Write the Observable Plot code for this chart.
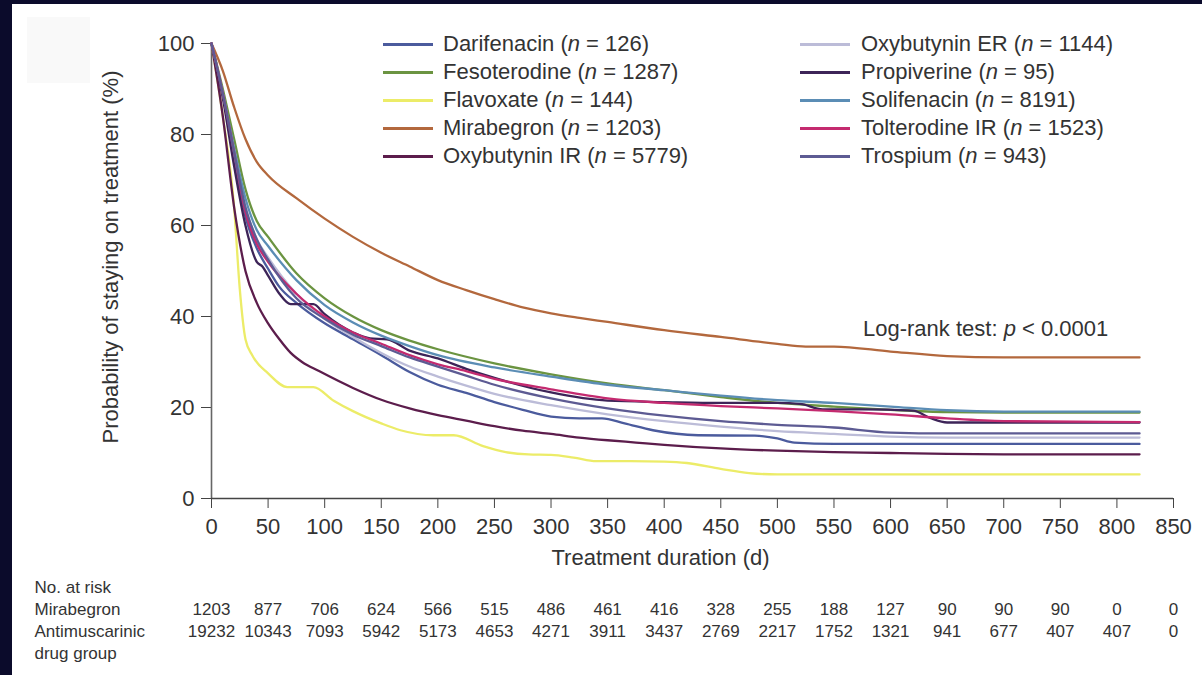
<!DOCTYPE html>
<html>
<head>
<meta charset="utf-8">
<script src="https://cdn.jsdelivr.net/npm/d3@7"></script>
<script src="https://cdn.jsdelivr.net/npm/@observablehq/plot@0.6"></script>
<style>
  html, body { margin: 0; padding: 0; background: #0b0b2b; }
  body { width: 1202px; height: 675px; overflow: hidden; position: relative; }
  #wrap { position: absolute; left: 12px; top: 4px; width: 1190px; height: 671px; background: #fff;
          font-family: "Liberation Sans", Arial, sans-serif; color: #333; }
  #wrap svg { position: absolute; left: 0; top: 0; }
  #shade { position: absolute; left: 15px; top: 13px; width: 63px; height: 66px; background: #f9f9f9; }
  .lg { position: absolute; font-size: 22px; line-height: 22px; white-space: nowrap; }
  .sw { position: absolute; width: 50px; height: 0; border-top: 3px solid; }
  #logrank { position: absolute; left: 851px; top: 314px; font-size: 22px; line-height: 22px; white-space: nowrap; }
  #ytitle { position: absolute; left: 99px; top: 253px; font-size: 22px; line-height: 22px; white-space: nowrap;
            transform: translate(-50%, -50%) rotate(-90deg); }
</style>
</head>
<body>
<div id="wrap"><div id="shade"></div></div>
<script>
// ---------- data ----------
const xTicks = [0,50,100,150,200,250,300,350,400,450,500,550,600,650,700,750,800,850];
const yTicks = [0,20,40,60,80,100];

const seriesNames = ["Darifenacin","Fesoterodine","Flavoxate","Mirabegron","Oxybutynin IR",
                     "Oxybutynin ER","Propiverine","Solifenacin","Tolterodine IR","Trospium"];
const seriesN = [126,1287,144,1203,5779,1144,95,8191,1523,943];
const seriesColors = ["#4b5b9d","#6b9441","#ecec68","#b3683d","#5c1d4c",
                      "#bcbcd8","#3d2458","#5b8db5","#c42a6f","#5d5b93"];

const darifenacinDays = [0,10,20,30,40,50,60,75,100,125,150,175,200,225,250,275,300,325,345,365,390,430,480,500,515,550,820];
const darifenacinPct  = [100,89,75,62,55,50.5,46.5,43,38.5,35,31.5,27.8,25,23.2,21.2,19.5,18,17.6,17.6,16.5,15,13.9,13.8,13.2,12.3,12,12];

const fesoterodineDays = [0,10,20,30,40,50,75,100,125,150,175,200,250,300,350,400,450,500,550,600,650,700,820];
const fesoterodinePct  = [100,90,79,68,61,57.5,49.5,44,40,37,34.7,32.8,29.7,27.3,25.3,23.8,22.3,21,20.2,19.5,19,18.9,18.9];

const flavoxateDays = [0,10,20,25,30,36,50,67,90,108,125,150,167,196,214,240,260,280,300,320,340,370,400,420,450,475,500,820];
const flavoxatePct  = [100,84,64,46,35,31.5,27.5,24.5,24.5,21.5,19.2,16.5,15,13.9,13.9,11.5,10.2,9.7,9.6,9,8.2,8.2,8.1,7.8,6.5,5.6,5.3,5.3];

const mirabegronDays = [0,10,20,30,40,50,75,100,125,150,175,200,225,250,275,300,325,350,400,450,500,525,550,600,650,700,820];
const mirabegronPct  = [100,94,86,79,74,71,66,61.5,57.5,54,51,48,45.8,43.8,42,40.7,39.7,38.8,37,35.5,34,33.4,33.4,32.3,31.3,31,31];

const oxybutyninIRDays = [0,10,20,30,40,50,60,70,80,95,125,150,175,200,225,250,275,300,325,350,375,400,450,500,550,600,650,700,820];
const oxybutyninIRPct  = [100,84,64,50,43,38.5,35,32,30,28,24.3,21.7,19.8,18.3,17.1,15.9,14.9,14.2,13.4,12.8,12.3,11.8,11,10.5,10.2,10,9.8,9.7,9.7];

const oxybutyninERDays = [0,10,20,30,40,50,75,100,125,150,175,200,225,250,300,350,400,450,500,550,600,650,820];
const oxybutyninERPct  = [100,89,76,64,57,53,45,39.5,35.5,32,29,26.8,24.8,23,20.5,18.5,17,15.8,14.8,14.2,13.6,13.4,13.4];

const propiverineDays = [0,10,20,30,40,45,50,60,70,90,100,125,140,155,175,200,225,250,300,350,400,450,500,520,540,575,620,635,650,820];
const propiverinePct  = [100,88,73,60,52,51,49,45,42.7,42.7,40.5,36.5,35.2,35,32.5,30.8,28.5,26.5,23.3,21.5,21.2,21,21,20.8,19.6,19.6,19.3,17.7,16.7,16.7];

const solifenacinDays = [0,10,20,30,40,50,75,100,125,150,175,200,250,300,350,400,450,500,550,600,650,700,820];
const solifenacinPct  = [100,89,77,66,59,55.5,48,42.5,38.7,35.8,33.5,31.5,28.8,26.8,25,23.8,22.6,21.6,21,20.2,19.4,19.1,19.1];

const tolterodineDays = [0,10,20,30,40,50,75,100,125,150,175,200,225,250,300,350,400,450,500,550,600,650,700,820];
const tolterodinePct  = [100,89,76,63,56,52,45,40,36.5,34,31.5,29.5,28,26.3,24,22,21,20.3,19.8,19.2,18.5,17.6,17,16.8];

const trospiumDays = [0,10,20,30,40,50,75,100,125,150,175,200,225,250,300,350,400,450,500,550,600,650,820];
const trospiumPct  = [100,89,76,64,57,52.5,44,39.5,36,33.5,31,29,27,25,22,19.8,18.2,17,16.2,15.6,14.5,14.3,14.3];

const mirabegronAtRisk     = [1203,877,706,624,566,515,486,461,416,328,255,188,127,90,90,90,0,0];
const antimuscarinicAtRisk = [19232,10343,7093,5942,5173,4653,4271,3911,3437,2769,2217,1752,1321,941,677,407,407,0];

const seriesDays = [darifenacinDays, fesoterodineDays, flavoxateDays, mirabegronDays, oxybutyninIRDays,
                    oxybutyninERDays, propiverineDays, solifenacinDays, tolterodineDays, trospiumDays];
const seriesPct  = [darifenacinPct, fesoterodinePct, flavoxatePct, mirabegronPct, oxybutyninIRPct,
                    oxybutyninERPct, propiverinePct, solifenacinPct, tolterodinePct, trospiumPct];

// ---------- build ----------
const rows = seriesNames.flatMap((name, i) =>
  seriesDays[i].map((t, j) => ({series: name, t, v: seriesPct[i][j]})));

const font = "'Liberation Sans', Arial, sans-serif";

const chart = Plot.plot({
  width: 1190, height: 671,
  marginLeft: 199, marginRight: 29, marginTop: 39, marginBottom: 177,
  style: {fontFamily: font, fontSize: "22px", color: "#333", background: "transparent"},
  x: {domain: [0, 850]},
  y: {domain: [0, 100]},
  color: {domain: seriesNames, range: seriesColors},
  marks: [
    Plot.axisX({ticks: xTicks, tickSize: 10, tickPadding: 10, label: null, tickFormat: d => String(d), stroke: "#444"}),
    Plot.axisY({ticks: yTicks, tickSize: 10, tickPadding: 7, label: null, tickFormat: d => String(d), stroke: "#444"}),
    Plot.ruleX([0], {stroke: "#666", strokeWidth: 1.6}),
    Plot.ruleY([0], {stroke: "#444", strokeWidth: 1.6}),
    Plot.line(rows, {x: "t", y: "v", z: "series", stroke: "series", curve: "monotone-x", strokeWidth: 2.3}),
    Plot.text(["Treatment duration (d)"], {frameAnchor: "bottom", dx: -32, dy: 66, fontSize: 22, fill: "#333"}),
    Plot.text(mirabegronAtRisk, {x: (d, i) => xTicks[i], text: d => String(d), frameAnchor: "bottom", dy: 116, fontSize: 17, fill: "#333"}),
    Plot.text(antimuscarinicAtRisk, {x: (d, i) => xTicks[i], text: d => String(d), frameAnchor: "bottom", dy: 138, fontSize: 17, fill: "#333"}),
    Plot.text(["No. at risk"], {frameAnchor: "bottom-left", textAnchor: "start", dx: -177, dy: 94, fontSize: 17, fill: "#333"}),
    Plot.text(["Mirabegron"], {frameAnchor: "bottom-left", textAnchor: "start", dx: -177, dy: 116, fontSize: 17, fill: "#333"}),
    Plot.text(["Antimuscarinic"], {frameAnchor: "bottom-left", textAnchor: "start", dx: -177, dy: 138, fontSize: 17, fill: "#333"}),
    Plot.text(["drug group"], {frameAnchor: "bottom-left", textAnchor: "start", dx: -177, dy: 160, fontSize: 17, fill: "#333"})
  ]
});

const wrap = document.getElementById("wrap");
wrap.appendChild(chart);

// y-axis title (HTML overlay, rotated)
const yt = document.createElement("div");
yt.id = "ytitle";
yt.textContent = "Probability of staying on treatment (%)";
wrap.appendChild(yt);

// legend (HTML overlay)
seriesNames.forEach((name, i) => {
  const col = i < 5 ? 0 : 1, row = i % 5;
  const swLeft = col === 0 ? 371 : 788;
  const txLeft = col === 0 ? 431 : 849;
  const cy = 40 + row * 28;
  const sw = document.createElement("div");
  sw.className = "sw";
  sw.style.left = swLeft + "px";
  sw.style.top = (cy - 1.5) + "px";
  sw.style.borderTopColor = seriesColors[i];
  wrap.appendChild(sw);
  const tx = document.createElement("div");
  tx.className = "lg";
  tx.style.left = txLeft + "px";
  tx.style.top = (cy - 11) + "px";
  tx.innerHTML = name + " (<i>n</i> = " + seriesN[i] + ")";
  wrap.appendChild(tx);
});

const lr = document.createElement("div");
lr.id = "logrank";
lr.innerHTML = "Log-rank test: <i>p</i> &lt; 0.0001";
wrap.appendChild(lr);
</script>
</body>
</html>
